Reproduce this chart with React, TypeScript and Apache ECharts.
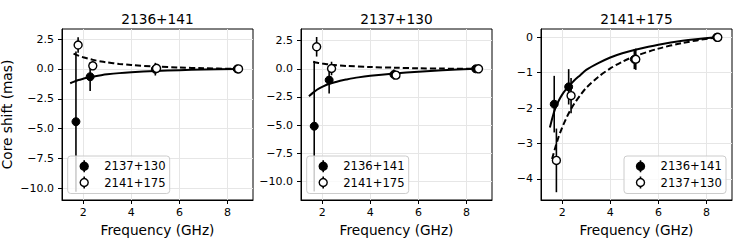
import React, { useEffect, useRef } from "react";
import * as echarts from "echarts";

// ---------- data ----------
const TITLES = ["2136+141", "2137+130", "2141+175"];
const LEGEND_FILLED = ["2137+130", "2136+141", "2136+141"];
const LEGEND_OPEN = ["2141+175", "2141+175", "2137+130"];

const X_TICKS = [2, 4, 6, 8];
const Y_TICKS_P1 = [2.5, 0, -2.5, -5, -7.5, -10];
const Y_TICKS_P2 = [2.5, 0, -2.5, -5, -7.5, -10];
const Y_TICKS_P3 = [0, -1, -2, -3, -4];

// panel 1: 2136+141
const P1_FILLED_FREQ = [1.7, 2.29, 5.0, 8.4];
const P1_FILLED_SHIFT = [-4.41, -0.65, -0.02, 0];
const P1_FILLED_ERR = [5.86, 1.2, 0.53, 0];
const P1_OPEN_FREQ = [1.79, 2.4, 5.05, 8.46];
const P1_OPEN_SHIFT = [2.0, 0.26, 0.05, 0];
const P1_OPEN_ERR = [0.65, 0.35, 0.1, 0];
const P1_SOLID_FREQ = [1.46, 1.6, 1.8, 2.0, 2.3, 2.75, 3, 3.5, 4, 5, 6, 7, 8.4];
const P1_SOLID_SHIFT = [-1.2, -1.08, -0.93, -0.82, -0.67, -0.52, -0.45, -0.35, -0.28, -0.17, -0.1, -0.05, 0];
const P1_DASH_FREQ = [1.6, 1.8, 2.0, 2.4, 2.75, 3, 3.5, 4, 5, 6, 7, 8.4];
const P1_DASH_SHIFT = [1.28, 1.11, 0.98, 0.76, 0.62, 0.54, 0.42, 0.33, 0.2, 0.12, 0.06, 0];

// panel 2: 2137+130
const P2_FILLED_FREQ = [1.67, 2.29, 4.98, 8.38];
const P2_FILLED_SHIFT = [-5.1, -1.0, -0.5, 0];
const P2_FILLED_ERR = [5.8, 1.2, 0.45, 0];
const P2_OPEN_FREQ = [1.77, 2.39, 5.07, 8.5];
const P2_OPEN_SHIFT = [1.96, 0.03, -0.56, 0];
const P2_OPEN_ERR = [0.87, 0.6, 0.3, 0];
const P2_SOLID_FREQ = [1.45, 1.6, 1.8, 2.0, 2.3, 2.75, 3, 3.5, 4, 5, 6, 7, 8.4];
const P2_SOLID_SHIFT = [-2.44, -2.16, -1.84, -1.6, -1.33, -1.06, -0.95, -0.76, -0.62, -0.42, -0.26, -0.13, 0];
const P2_DASH_FREQ = [1.63, 1.8, 2.0, 2.4, 3, 4, 5, 6, 7, 8.4];
const P2_DASH_SHIFT = [0.63, 0.54, 0.47, 0.37, 0.26, 0.16, 0.1, 0.05, 0.02, 0];

// panel 3: 2141+175
const P3_FILLED_FREQ = [1.67, 2.27, 5.0, 8.42];
const P3_FILLED_SHIFT = [-1.89, -1.4, -0.62, 0];
const P3_FILLED_ERR = [0.8, 0.5, 0.28, 0];
const P3_OPEN_FREQ = [1.76, 2.37, 5.06, 8.47];
const P3_OPEN_SHIFT = [-3.48, -1.65, -0.62, 0];
const P3_OPEN_ERR = [0.9, 0.5, 0.3, 0];
const P3_SOLID_FREQ = [1.49, 1.6, 1.7, 1.85, 2.0, 2.15, 2.3, 2.5, 2.75, 3, 3.5, 4, 4.5, 5, 6, 7, 8.4];
const P3_SOLID_SHIFT = [-2.55, -2.26, -2.04, -1.8, -1.62, -1.48, -1.37, -1.22, -1.07, -0.92, -0.73, -0.57, -0.45, -0.36, -0.21, -0.1, 0];
const P3_DASH_FREQ = [1.58, 1.7, 1.85, 2.0, 2.15, 2.3, 2.5, 2.75, 3, 3.5, 4, 4.5, 5, 6, 7, 8.4];
const P3_DASH_SHIFT = [-3.44, -3.15, -2.82, -2.55, -2.32, -2.11, -1.88, -1.64, -1.43, -1.12, -0.88, -0.69, -0.54, -0.32, -0.16, 0];

const X_RANGE = [1.12, 9.06];
const Y_RANGES = [
  [-10.96, 3.34],
  [-11.66, 3.54],
  [-4.6, 0.235],
];

// ---------- layout ----------
const FONT = "DejaVu Sans";
const GRID_LEFTS = [62, 301, 541];
const GRID_TOP = 29;
const GRID_W = 191;
const GRID_H = 171;

const zip = (a: number[], b: number[], c?: number[]) =>
  a.map((v, i) => (c ? [v, b[i], c[i]] : [v, b[i]]));

const PANELS = [
  {
    filled: zip(P1_FILLED_FREQ, P1_FILLED_SHIFT, P1_FILLED_ERR),
    open: zip(P1_OPEN_FREQ, P1_OPEN_SHIFT, P1_OPEN_ERR),
    solid: zip(P1_SOLID_FREQ, P1_SOLID_SHIFT),
    dash: zip(P1_DASH_FREQ, P1_DASH_SHIFT),
    yTicks: Y_TICKS_P1,
    dec: 1,
    legendRight: false,
  },
  {
    filled: zip(P2_FILLED_FREQ, P2_FILLED_SHIFT, P2_FILLED_ERR),
    open: zip(P2_OPEN_FREQ, P2_OPEN_SHIFT, P2_OPEN_ERR),
    solid: zip(P2_SOLID_FREQ, P2_SOLID_SHIFT),
    dash: zip(P2_DASH_FREQ, P2_DASH_SHIFT),
    yTicks: Y_TICKS_P2,
    dec: 1,
    legendRight: false,
  },
  {
    filled: zip(P3_FILLED_FREQ, P3_FILLED_SHIFT, P3_FILLED_ERR),
    open: zip(P3_OPEN_FREQ, P3_OPEN_SHIFT, P3_OPEN_ERR),
    solid: zip(P3_SOLID_FREQ, P3_SOLID_SHIFT),
    dash: zip(P3_DASH_FREQ, P3_DASH_SHIFT),
    yTicks: Y_TICKS_P3,
    dec: 0,
    legendRight: true,
  },
];

const errRender = (params: any, api: any) => {
  const x = api.value(0);
  const y = api.value(1);
  const e = api.value(2);
  const a = api.coord([x, y + e]);
  const b = api.coord([x, y - e]);
  return {
    type: "line",
    shape: { x1: a[0], y1: a[1], x2: b[0], y2: b[1] },
    style: { stroke: "#000", lineWidth: 1.6 },
  };
};

function buildOption() {
  const grid: any[] = [];
  const xAxis: any[] = [];
  const yAxis: any[] = [];
  const series: any[] = [];
  const graphic: any[] = [];

  PANELS.forEach((p, i) => {
    const left = GRID_LEFTS[i];
    grid.push({
      left,
      top: GRID_TOP,
      width: GRID_W,
      height: GRID_H,
      show: true,
      borderColor: "#000",
      borderWidth: 1,
      backgroundColor: "transparent",
    });
    xAxis.push({
      gridIndex: i,
      type: "value",
      min: X_RANGE[0],
      max: X_RANGE[1],
      axisLine: { show: true, onZero: false, lineStyle: { color: "#000", width: 1 } },
      axisTick: { show: true, inside: false, length: 4, customValues: X_TICKS, lineStyle: { color: "#000" } },
      axisLabel: { customValues: X_TICKS, color: "#000", fontSize: 11, margin: 7, fontFamily: FONT },
      splitLine: { show: false },
      name: "Frequency (GHz)",
      nameLocation: "middle",
      nameGap: 23,
      nameTextStyle: { color: "#000", fontSize: 13.7, fontFamily: FONT },
    });
    yAxis.push({
      gridIndex: i,
      type: "value",
      min: Y_RANGES[i][0],
      max: Y_RANGES[i][1],
      axisLine: { show: true, onZero: false, lineStyle: { color: "#000", width: 1 } },
      axisTick: { show: true, inside: false, length: 4, customValues: p.yTicks, lineStyle: { color: "#000" } },
      axisLabel: {
        customValues: p.yTicks,
        color: "#000",
        fontSize: 11,
        margin: 8,
        fontFamily: FONT,
        formatter: (v: number) => v.toFixed(p.dec).replace("-", "\u2212"),
      },
      splitLine: { show: false },
    });

    // grid lines at the tick values
    series.push({
      type: "line",
      xAxisIndex: i,
      yAxisIndex: i,
      data: [],
      z: 0,
      silent: true,
      markLine: {
        z: 0,
        silent: true,
        symbol: ["none", "none"],
        label: { show: false },
        lineStyle: { color: "#e6e6e6", type: "solid", width: 1 },
        data: [
          ...X_TICKS.map((v) => ({ xAxis: v })),
          ...p.yTicks.map((v) => ({ yAxis: v })),
        ],
      },
    });

    series.push({
      type: "line",
      xAxisIndex: i,
      yAxisIndex: i,
      data: p.solid,
      smooth: 0.3,
      showSymbol: false,
      symbol: "none",
      lineStyle: { color: "#000", width: 2 },
      z: 2,
      silent: true,
    });
    series.push({
      type: "line",
      xAxisIndex: i,
      yAxisIndex: i,
      data: p.dash,
      smooth: 0.3,
      showSymbol: false,
      symbol: "none",
      lineStyle: { color: "#000", width: 2, type: [6, 3] },
      z: 2,
      silent: true,
    });
    series.push({
      type: "custom",
      xAxisIndex: i,
      yAxisIndex: i,
      data: p.filled,
      renderItem: errRender,
      z: 3,
      silent: true,
    });
    series.push({
      type: "custom",
      xAxisIndex: i,
      yAxisIndex: i,
      data: p.open,
      renderItem: errRender,
      z: 3,
      silent: true,
    });
    series.push({
      type: "scatter",
      xAxisIndex: i,
      yAxisIndex: i,
      data: p.filled.map((d) => [d[0], d[1]]),
      symbol: "circle",
      symbolSize: 8,
      itemStyle: { color: "#000", borderColor: "#000", borderWidth: 1, opacity: 1 },
      z: 4,
      silent: true,
    });
    series.push({
      type: "scatter",
      xAxisIndex: i,
      yAxisIndex: i,
      data: p.open.map((d) => [d[0], d[1]]),
      symbol: "circle",
      symbolSize: 8,
      itemStyle: { color: "#fff", borderColor: "#000", borderWidth: 1.4, opacity: 1 },
      z: 5,
      silent: true,
    });

    // title
    graphic.push({
      type: "text",
      x: left + GRID_W / 2,
      y: 19,
      z: 10,
      style: {
        text: TITLES[i],
        fontSize: 13.7,
        fontFamily: FONT,
        fill: "#000",
        textAlign: "center",
        textVerticalAlign: "middle",
      },
    });

    // legend
    const boxW = 102;
    const boxLeft = p.legendRight ? left + GRID_W - 6 - boxW : left + 5.7;
    const boxTop = 156;
    graphic.push({
      type: "rect",
      shape: { x: boxLeft, y: boxTop, width: boxW, height: 37.5, r: 3 },
      style: { fill: "rgba(255,255,255,0.8)", stroke: "#cccccc", lineWidth: 1 },
      z: 20,
    });
    const rows = [
      { y: 166.3, fill: "#000", label: LEGEND_FILLED[i] },
      { y: 182.5, fill: "#fff", label: LEGEND_OPEN[i] },
    ];
    rows.forEach((r) => {
      const mx = boxLeft + 16.5;
      graphic.push({
        type: "line",
        shape: { x1: mx, y1: r.y - 6, x2: mx, y2: r.y + 6 },
        style: { stroke: "#000", lineWidth: 1.6 },
        z: 21,
      });
      graphic.push({
        type: "circle",
        shape: { cx: mx, cy: r.y, r: 4 },
        style: { fill: r.fill, stroke: "#000", lineWidth: 1.4 },
        z: 22,
      });
      graphic.push({
        type: "text",
        x: boxLeft + 36.5,
        y: r.y,
        z: 22,
        style: {
          text: r.label,
          fontSize: 11.6,
          fontFamily: FONT,
          fill: "#000",
          textAlign: "left",
          textVerticalAlign: "middle",
        },
      });
    });
  });

  // y label
  graphic.push({
    type: "text",
    x: 7,
    y: GRID_TOP + GRID_H / 2,
    rotation: Math.PI / 2,
    z: 10,
    style: {
      text: "Core shift (mas)",
      fontSize: 13.7,
      fontFamily: FONT,
      fill: "#000",
      textAlign: "center",
      textVerticalAlign: "middle",
    },
  });

  return {
    animation: false,
    backgroundColor: "#fff",
    grid,
    xAxis,
    yAxis,
    series,
    graphic,
  };
}

export default function App() {
  const ref = useRef<HTMLDivElement>(null);
  useEffect(() => {
    if (!ref.current) return;
    const chart = echarts.init(ref.current, undefined, { renderer: "svg" });
    chart.setOption(buildOption() as any);
    return () => chart.dispose();
  }, []);
  return (
    <div
      ref={ref}
      style={{ position: "fixed", left: 0, top: 0, width: 747, height: 249 }}
    />
  );
}
